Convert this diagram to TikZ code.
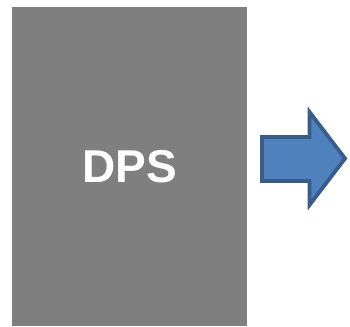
\documentclass[tikz,border=0pt]{standalone}
\usepackage{fontspec}
\setmainfont{Liberation Sans}
\usetikzlibrary{positioning}
\definecolor{slab}{HTML}{7F7F7F}
\definecolor{arrowfill}{HTML}{4F81BD}
\definecolor{arrowline}{HTML}{385D8A}

\begin{document}
\begin{tikzpicture}[
  x=1pt, y=-1pt,
  slabbox/.style={fill=slab, draw=none, minimum width=235pt, minimum height=319pt,
                  inner sep=0pt, text=white, font=\fontsize{46}{50}\selectfont\bfseries},
  blockarrow/.style={fill=arrowfill, draw=arrowline, line width=3.8pt, line join=miter}
]
  \useasboundingbox (0,0) rectangle (350,326);
  \node[slabbox] (dps) at (129.5,166.5) {DPS};

  % block arrow to the right
  \draw[blockarrow] (262,137) -- (309.5,137) -- (309.5,112) -- (345,158.5)
    -- (309.5,205) -- (309.5,181) -- (262,181) -- cycle;
\end{tikzpicture}
\end{document}
